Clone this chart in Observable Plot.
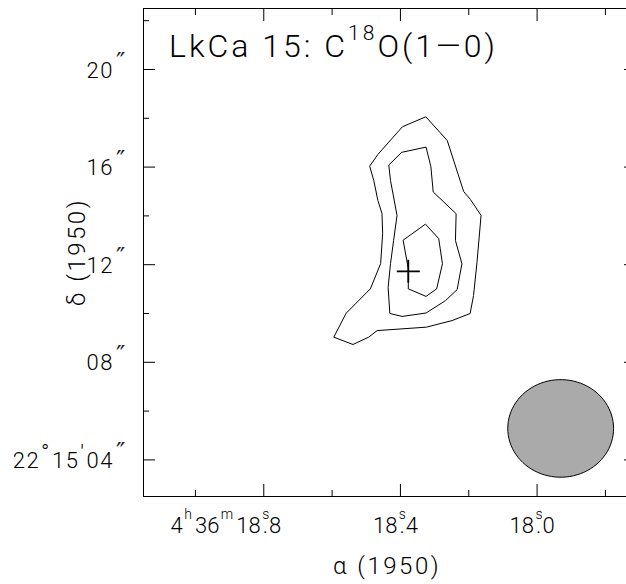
<!DOCTYPE html>
<html>
<head>
<meta charset="utf-8">
<script src="https://cdn.jsdelivr.net/npm/d3@7"></script>
<script src="https://cdn.jsdelivr.net/npm/@observablehq/plot@0.6"></script>
<style>
  html, body { margin: 0; padding: 0; background: #fff; overflow: hidden; }
  #chart { width: 626px; height: 584px; overflow: hidden; }
</style>
</head>
<body>
<div id="chart"></div>
<script>
// LkCa 15, C18O(1-0) integrated intensity map (B1950).
// RA in seconds of time past 4h36m, Dec in arcsec past +22°15'.

const raDomain = [19.152, 17.712];
const decDomain = [2.5, 22.5];

// Contour levels, lowest first
const outerRA  = [18.325, 18.263, 18.215, 18.195, 18.164, 18.176, 18.186, 18.196, 18.249, 18.324, 18.468, 18.493, 18.539, 18.595, 18.559, 18.488, 18.458, 18.452, 18.454, 18.466, 18.478, 18.490, 18.466, 18.395];
const outerDec = [18.05, 17.09, 15.00, 14.67, 14.02, 12.09, 10.74, 10.00, 9.71, 9.44, 9.30, 9.03, 8.73, 9.03, 10.01, 11.01, 12.04, 13.28, 14.10, 14.63, 15.45, 16.04, 16.52, 17.64];

const midRA  = [18.395, 18.325, 18.311, 18.304, 18.237, 18.239, 18.220, 18.234, 18.268, 18.325, 18.395, 18.431, 18.436, 18.429, 18.420, 18.410, 18.429, 18.434];
const midDec = [16.61, 16.82, 16.03, 14.98, 14.09, 12.99, 12.04, 10.98, 10.53, 10.02, 9.88, 10.00, 11.07, 12.05, 12.99, 14.02, 15.45, 16.07];

const innerRA  = [18.326, 18.288, 18.277, 18.294, 18.325, 18.377, 18.377, 18.392];
const innerDec = [13.65, 13.07, 12.04, 11.01, 10.70, 11.01, 11.84, 12.99];

// Stellar position
const starRA = [18.377];
const starDec = [11.73];

// Synthesized beam: centre (RA s, Dec ") and full widths along RA and Dec (")
const beamCenter = [17.931, 5.29];
const beamWidths = [4.3, 4.0];

// Axis ticks and labels
const raMajorTicks = [18.8, 18.4, 18.0];
const raMinorTicks = [19.0, 18.6, 18.2, 17.8];
const raLabelPrefix = ["4h36m", "", ""];
const raLabelSeconds = ["18s.8", "18s.4", "18s.0"];
const decMajorTicks = [4, 8, 12, 16, 20];
const decMinorTicks = [6, 10, 14, 18, 22];
const decTickLabels = ["22°15′04", "08", "12", "16", "20"];
const secondMark = "″";

const FONT = "Roboto, 'Liberation Sans', sans-serif";

const contours = [
  ...outerRA.map((ra, i) => ({level: 1, ra, dec: outerDec[i]})),
  ...midRA.map((ra, i) => ({level: 2, ra, dec: midDec[i]})),
  ...innerRA.map((ra, i) => ({level: 3, ra, dec: innerDec[i]}))
];
const star = starRA.map((ra, i) => ({ra, dec: starDec[i]}));

const cosDec = Math.cos((22 + 15 / 60) * Math.PI / 180);
const beam = d3.range(0, 360, 4).map(a => {
  const t = a * Math.PI / 180;
  return {
    ra: beamCenter[0] + beamWidths[0] / 2 / (15 * cosDec) * Math.cos(t),
    dec: beamCenter[1] + beamWidths[1] / 2 * Math.sin(t)
  };
});

// Stroked plus sign for the star marker
const plusStroke = {
  draw(ctx, size) {
    const r = Math.sqrt(size / Math.PI);
    ctx.moveTo(-r, 0); ctx.lineTo(r, 0);
    ctx.moveTo(0, -r); ctx.lineTo(0, r);
  }
};

const noText = () => "";
const plot = Plot.plot({
  width: 635,
  height: 584,
  marginLeft: 143,
  marginRight: 0,
  marginTop: 8,
  marginBottom: 88,
  x: {domain: raDomain, axis: null, label: null},
  y: {domain: decDomain, axis: null, label: null},
  marks: [
    Plot.line(beam, {x: "ra", y: "dec", curve: "linear-closed", fill: "#aaaaaa", stroke: "black", strokeWidth: 1}),
    Plot.line(contours, {x: "ra", y: "dec", z: "level", curve: "linear-closed", stroke: "black", strokeWidth: 1}),
    Plot.dot(star, {x: "ra", y: "dec", symbol: plusStroke, r: 11.5, stroke: "black", strokeWidth: 1.8, fill: "none"}),
    Plot.axisX({anchor: "bottom", ticks: raMajorTicks, tickSize: -12, tickFormat: noText, label: null}),
    Plot.axisX({anchor: "bottom", ticks: raMinorTicks, tickSize: -6, tickFormat: noText, label: null}),
    Plot.axisX({anchor: "top", ticks: raMajorTicks, tickSize: -12, tickFormat: noText, label: null}),
    Plot.axisX({anchor: "top", ticks: raMinorTicks, tickSize: -6, tickFormat: noText, label: null}),
    Plot.axisY({anchor: "left", ticks: decMajorTicks, tickSize: -12, tickFormat: noText, label: null}),
    Plot.axisY({anchor: "left", ticks: decMinorTicks, tickSize: -6, tickFormat: noText, label: null}),
    Plot.axisY({anchor: "right", ticks: decMajorTicks, tickSize: -12, tickFormat: noText, label: null}),
    Plot.axisY({anchor: "right", ticks: decMinorTicks, tickSize: -6, tickFormat: noText, label: null}),
    Plot.frame({stroke: "black", strokeWidth: 1})
  ]
});
plot.style.maxWidth = "none";
document.getElementById("chart").appendChild(plot);

const xs = plot.scale("x"), ys = plot.scale("y");
const X = v => xs.apply(v), Y = v => ys.apply(v);
const frameLeft = X(raDomain[0]);
const frameTop = Y(decDomain[1]), frameBottom = Y(decDomain[0]);

const svg = d3.select(plot);
const g = svg.append("g")
  .attr("font-family", FONT)
  .attr("font-weight", 300)
  .attr("text-anchor", "start")
  .attr("fill", "black");

// Dec labels: degree and minute marks raised, arcsec mark set after the digits
function decLabel(text, str) {
  let raised = false;
  for (const part of str.match(/[°′]|[^°′]+/g)) {
    const sup = /[°′]/.test(part);
    const ts = text.append("tspan").text(part);
    if (sup !== raised) { ts.attr("dy", sup ? -8 : 8); raised = sup; }
    ts.attr("dx", sup ? 1 : (raised ? 0 : 1));
  }
}
decMajorTicks.forEach((v, i) => {
  const t = g.append("text")
    .attr("x", frameLeft - 30)
    .attr("y", Y(v) + 8.5)
    .attr("font-size", 22)
    .attr("letter-spacing", 1.5)
    .attr("text-anchor", "end");
  decLabel(t, decTickLabels[i]);
  g.append("text")
    .attr("x", frameLeft - 27)
    .attr("y", Y(v) + 1)
    .attr("font-size", 25)
    .attr("font-family", "'DejaVu Sans', sans-serif")
    .attr("font-weight", 400)
    .attr("fill", "#222")
    .text(secondMark);
});

// RA labels: h, m, s as superscripts, decimal point under the s
function raRuns(text, str) {
  let raised = false;
  const parts = str.match(/[hms]|\.|[^hms.]+/g);
  parts.forEach((part, j) => {
    const ts = text.append("tspan").text(part);
    if (/[hms]/.test(part)) {
      ts.attr("font-size", 14).attr("dy", -14).attr("dx", 1.5);
      raised = true;
    } else if (part === ".") {
      ts.attr("dy", 14).attr("dx", -6.5);
      raised = false;
    } else {
      if (raised) { ts.attr("dy", 14); raised = false; }
      ts.attr("dx", j === 0 ? 0 : (parts[j - 1] === "." ? 1 : 3));
    }
  });
}
raMajorTicks.forEach((v, i) => {
  const x0 = X(v) - 27;
  if (raLabelPrefix[i]) {
    const p = g.append("text").attr("x", x0 - 3).attr("y", frameBottom + 37)
      .attr("font-size", 22).attr("text-anchor", "end");
    raRuns(p, raLabelPrefix[i]);
  }
  const s = g.append("text").attr("x", x0).attr("y", frameBottom + 37)
    .attr("font-size", 22).attr("text-anchor", "start");
  raRuns(s, raLabelSeconds[i]);
});

// Axis titles
g.append("text")
  .attr("x", 387).attr("y", frameBottom + 78)
  .attr("font-size", 24).attr("letter-spacing", 2.5).attr("text-anchor", "middle")
  .text("α (1950)");
g.append("text")
  .attr("transform", `translate(85,${(frameTop + frameBottom) / 2}) rotate(-90)`)
  .attr("font-size", 24).attr("letter-spacing", 2.5).attr("text-anchor", "middle")
  .text("δ (1950)");

// Map title inside the frame
const title = g.append("text")
  .attr("x", frameLeft + 26).attr("y", frameTop + 49)
  .attr("font-size", 32)
  .attr("letter-spacing", 3)
  .attr("text-anchor", "start");
title.append("tspan").text("LkCa 15: C");
title.append("tspan").attr("font-size", 21).attr("dy", -17).text("18");
title.append("tspan").attr("dy", 17).text("O(1—0)");
</script>
</body>
</html>
